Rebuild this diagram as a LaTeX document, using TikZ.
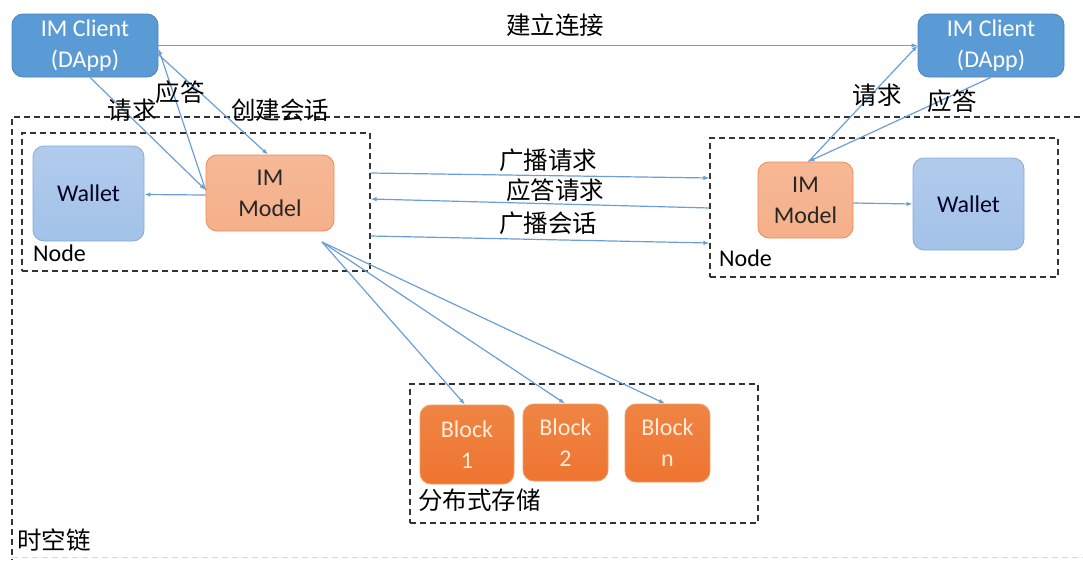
\documentclass[tikz,border=0pt]{standalone}
\usepackage{fontspec}
\setmainfont{Carlito}
\newfontfamily\cjk{Noto Sans CJK SC}
\usetikzlibrary{arrows.meta}

\definecolor{clientfill}{HTML}{5B9BD5}
\definecolor{clientedge}{HTML}{4A84BE}
\definecolor{walletfill}{HTML}{A3C2E8}
\definecolor{walletedge}{HTML}{86AAD8}
\definecolor{modelfill}{HTML}{F5B08A}
\definecolor{modeledge}{HTML}{EE8A55}
\definecolor{blockfill}{HTML}{EE7A33}
\definecolor{blockedge}{HTML}{F29A62}
\definecolor{linkblue}{HTML}{6A9FD4}

\tikzset{
  box/.style={rectangle, rounded corners=11pt, align=center, inner sep=0pt,
    font=\fontsize{24}{31}\selectfont, line width=0.8pt},
  client/.style={box, fill=clientfill, draw=clientedge, text=white},
  wallet/.style={box, top color=walletfill!85!white, bottom color=walletfill, draw=walletedge, text=black!85!blue},
  model/.style={box, top color=modelfill!90!white, bottom color=modelfill, draw=modeledge, text=black!85},
  block/.style={box, top color=blockfill!92!white, bottom color=blockfill!95!red, draw=blockedge, text=orange!15!white},
  group/.style={rectangle, draw=black!80, dashed, dash pattern=on 6pt off 4pt, line width=1.1pt, inner sep=0pt},
  link/.style={draw=linkblue, line width=1.2pt, -{Latex[length=6pt,width=4.5pt]}},
  cjklabel/.style={font=\cjk\fontsize{24.5}{26}\selectfont, inner sep=0pt, text=black},
  grouplabel/.style={font=\fontsize{24}{26}\selectfont, inner sep=0pt, anchor=west, text=black}
}

\begin{document}
\begin{tikzpicture}[x=1pt, y=-1pt]
\useasboundingbox (0,0) rectangle (1083,560);

% outer chain boundary
\draw[black!80, dash pattern=on 6pt off 4pt, line width=1.1pt] (1090,117) -- (12,117) -- (12,560);
\draw[black!15, dash pattern=on 6pt off 4pt, line width=0.8pt] (12,557) -- (1090,557);
\node[cjklabel, anchor=west] (chain) at (17,540) {时空链};

% clients
\node[client, minimum width=146pt, minimum height=63pt] (lc) at (85,45.5) {IM Client\\(DApp)};
\node[client, minimum width=146pt, minimum height=63pt] (rc) at (991,45.5) {IM Client\\(DApp)};

% left node group
\node[group, minimum width=348pt, minimum height=138pt] (lnode) at (196,202) {};
\node[grouplabel] (lnodelbl) at (33,253) {Node};
\node[wallet, minimum width=111pt, minimum height=95pt] (lw) at (88.5,193.5) {Wallet};
\node[model, minimum width=128pt, minimum height=76pt] (lm) at (270,193) {IM\\Model};

% right node group
\node[group, minimum width=348pt, minimum height=139pt] (rnode) at (884,207.5) {};
\node[grouplabel] (rnodelbl) at (719,258) {Node};
\node[model, minimum width=95pt, minimum height=76pt] (rm) at (805.5,200) {IM\\Model};
\node[wallet, minimum width=111pt, minimum height=92pt] (rw) at (968.5,204) {Wallet};

% distributed storage
\node[group, minimum width=348pt, minimum height=139pt] (store) at (584,453.5) {};
\node[cjklabel, anchor=west] (storelbl) at (418,500) {分布式存储};
\node[block, minimum width=94pt, minimum height=79pt] (b1) at (467,444.5) {Block\\1};
\node[block, minimum width=85pt, minimum height=77pt] (b2) at (565.5,442.5) {Block\\2};
\node[block, minimum width=85pt, minimum height=78pt] (bn) at (667.5,443) {Block\\n};

% client to client
\draw[link] (lc.east) -- (rc.west);
\node[cjklabel] (conn) at (555,25) {建立连接};

% left client and model
\draw[link] ([xshift=5pt]lc.south) -- ([yshift=3pt]lm.west);
\draw[link] ([yshift=3pt]lm.west) -- ([yshift=-3pt]lc.east);
\draw[link] ([yshift=-9pt]lc.east) -- ([xshift=-2pt]lm.north);
\draw[link] ([yshift=-2pt]lm.west) -- ([yshift=-1pt]lw.east);
\node[cjklabel] (lreq) at (132,110) {请求};
\node[cjklabel] (lans) at (180,92) {应答};
\node[cjklabel] (lsess) at (280,110) {创建会话};

% right client and model
\draw[link] ([xshift=3pt]rm.north) -- (rc.west);
\draw[link] (rc.south) -- ([xshift=3pt]rm.north);
\draw[link] ([yshift=-3pt]rm.east) -- (rw.west);
\node[cjklabel] (rreq) at (877,95) {请求};
\node[cjklabel] (rans) at (952,101) {应答};

% node to node
\draw[link] ([yshift=29pt]lnode.east) -- ([yshift=29.5pt]rnode.west);
\draw[link] ([yshift=-0.5pt]rnode.west) -- ([yshift=3pt]lnode.east);
\draw[link] ([yshift=-34pt]lnode.east) -- ([yshift=-35.5pt]rnode.west);
\node[cjklabel] (bcreq) at (548,160) {广播请求};
\node[cjklabel] (ansreq) at (555,190) {应答请求};
\node[cjklabel] (bcsess) at (548,223) {广播会话};

% model to storage blocks
\coordinate (src) at (322,242);
\draw[link] (src) -- ([xshift=-2pt]b1.north);
\draw[link] (src) -- ([xshift=-0.5pt]b2.north);
\draw[link] (src) -- ([xshift=-2.5pt]bn.north);
\end{tikzpicture}
\end{document}
